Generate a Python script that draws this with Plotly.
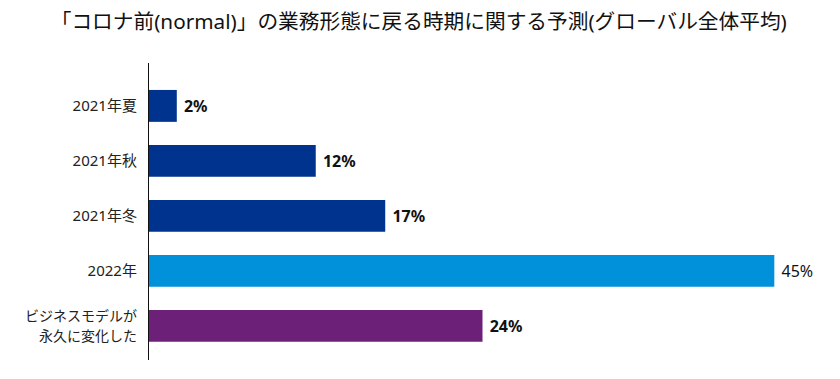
import plotly.graph_objects as go

categories = ["2021年夏", "2021年秋", "2021年冬", "2022年", "ビジネスモデルが<br>永久に変化した"]
values = [2, 12, 17, 45, 24]
labels = ["2%", "12%", "17%", "45%", "24%"]
bold = [True, True, True, False, True]
colors = ["#00338D", "#00338D", "#00338D", "#0091DA", "#6D2077"]

font = "Noto Sans, Noto Sans CJK JP"

texts = [(" <b>%s</b>" % t) if b else (" %s" % t) for t, b in zip(labels, bold)]
ticktexts = [c if "<br>" not in c else
             "<br>".join('<span style="font-size:14px">%s</span>' % p for p in c.split("<br>"))
             for c in categories]

fig = go.Figure(go.Bar(
    y=categories,
    x=values,
    orientation="h",
    marker=dict(color=colors, line=dict(width=0)),
    width=0.58,
    text=texts,
    textposition="outside",
    textfont=dict(family=font, size=16, color="#111111"),
    cliponaxis=False,
    hoverinfo="skip",
))

fig.update_layout(
    width=840, height=379,
    paper_bgcolor="white", plot_bgcolor="white",
    margin=dict(l=141, r=32, t=55, b=27, autoexpand=False),
    title=dict(
        text="「コロナ前(normal)」の業務形態に戻る時期に関する予測(グローバル全体平均)",
        x=0.489, xanchor="center", y=0.963, yanchor="middle", yref="container",
        font=dict(family=font, size=20.7, color="#111111"),
    ),
    showlegend=False,
    font=dict(family=font),
)
fig.update_xaxes(range=[0, 48], visible=False, showgrid=False, zeroline=False, automargin=False)
fig.update_yaxes(
    type="category",
    range=[4.62, -0.78],
    automargin=False,
    showline=True, linecolor="#111111", linewidth=1.2,
    showgrid=False, zeroline=False,
    ticks="", ticklabelstandoff=8,
    tickmode="array", tickvals=categories, ticktext=ticktexts,
    tickfont=dict(family=font, size=15, color="#222222"),
)

fig.write_html("out.html")
